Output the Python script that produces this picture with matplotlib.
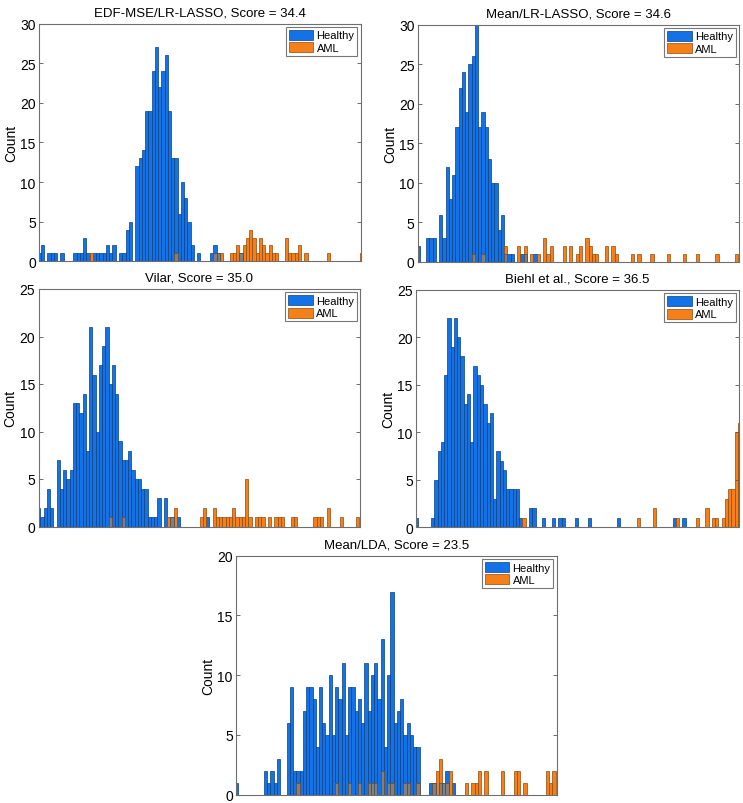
import numpy as np
import matplotlib
matplotlib.use("Agg")
import matplotlib.pyplot as plt

plt.rcParams['font.family'] = ['Liberation Sans', 'DejaVu Sans']

# histogram counts per bin (100 bins per panel)
titles = ['EDF-MSE/LR-LASSO, Score = 34.4',
          'Mean/LR-LASSO, Score = 34.6',
          'Vilar, Score = 35.0',
          'Biehl et al., Score = 36.5',
          'Mean/LDA, Score = 23.5']
ymax = [30, 30, 25, 25, 20]

healthy_edf = [1, 2, 0, 1, 1, 1, 0, 1, 0, 0,
               0, 1, 1, 1, 3, 1, 0, 1, 1, 1,
               1, 2, 1, 2, 0, 1, 1, 4, 5, 0,
               12, 13, 14, 19, 19, 24, 27, 22, 24, 26,
               19, 13, 13, 6, 10, 8, 5, 2, 0, 1,
               0, 0, 0, 1, 2, 1, 0, 0, 0, 0,
               0, 0, 1, 0, 0, 0, 0, 0, 0, 0,
               0, 0, 0, 0, 0, 0, 0, 0, 0, 0,
               0, 0, 0, 0, 0, 0, 0, 0, 0, 0,
               0, 0, 0, 0, 0, 0, 0, 0, 0, 0]
aml_edf = [0, 0, 0, 0, 0, 0, 0, 0, 0, 0,
           0, 0, 0, 0, 0, 0, 1, 0, 0, 0,
           0, 0, 0, 0, 0, 0, 0, 0, 0, 0,
           0, 0, 0, 0, 0, 0, 0, 0, 0, 0,
           0, 0, 1, 0, 0, 0, 0, 0, 0, 0,
           0, 0, 0, 0, 1, 1, 1, 0, 0, 1,
           1, 2, 1, 2, 3, 4, 3, 1, 3, 2,
           1, 2, 1, 1, 0, 0, 3, 1, 1, 1,
           2, 0, 1, 0, 0, 0, 0, 0, 0, 1,
           0, 0, 0, 0, 0, 0, 0, 0, 0, 1]

healthy_mean_lasso = [2, 0, 0, 3, 3, 3, 0, 6, 3, 12,
                      8, 11, 17, 22, 24, 19, 25, 26, 30, 17,
                      19, 17, 13, 10, 10, 4, 6, 1, 1, 1,
                      0, 0, 1, 1, 0, 0, 1, 0, 0, 0,
                      0, 0, 0, 0, 0, 0, 0, 0, 0, 0,
                      0, 0, 0, 0, 0, 0, 0, 0, 0, 0,
                      0, 0, 0, 0, 0, 0, 0, 0, 0, 0,
                      0, 0, 0, 0, 0, 0, 0, 0, 0, 0,
                      0, 0, 0, 0, 0, 0, 0, 0, 0, 0,
                      0, 0, 0, 0, 0, 0, 0, 0, 0, 0]
aml_mean_lasso = [0, 0, 0, 0, 0, 0, 0, 0, 0, 0,
                  0, 0, 0, 0, 0, 0, 0, 1, 0, 0,
                  1, 0, 0, 0, 0, 0, 0, 2, 0, 0,
                  0, 2, 0, 2, 0, 1, 0, 1, 0, 3,
                  1, 2, 0, 0, 0, 2, 0, 2, 0, 1,
                  2, 0, 3, 2, 1, 1, 0, 0, 2, 0,
                  2, 1, 0, 0, 0, 0, 1, 0, 1, 0,
                  0, 0, 1, 0, 0, 0, 0, 1, 0, 0,
                  0, 0, 1, 0, 0, 0, 1, 0, 0, 0,
                  0, 0, 1, 0, 0, 0, 0, 0, 1, 0]

healthy_vilar = [2, 1, 2, 4, 2, 0, 7, 4, 6, 5,
                 6, 13, 13, 12, 14, 8, 21, 16, 10, 17,
                 19, 21, 15, 17, 14, 9, 7, 7, 8, 6,
                 5, 5, 4, 4, 1, 1, 1, 3, 0, 3,
                 0, 1, 0, 1, 0, 0, 0, 0, 0, 0,
                 0, 0, 1, 0, 0, 0, 0, 0, 0, 0,
                 0, 0, 0, 0, 0, 0, 0, 0, 0, 0,
                 0, 0, 0, 0, 0, 0, 0, 0, 0, 0,
                 0, 0, 0, 0, 0, 0, 0, 0, 0, 0,
                 0, 0, 0, 0, 0, 0, 0, 0, 0, 0]
aml_vilar = [0, 0, 0, 0, 0, 0, 0, 0, 0, 0,
             0, 0, 0, 0, 0, 0, 0, 0, 0, 0,
             0, 0, 1, 0, 0, 0, 1, 0, 0, 0,
             0, 0, 0, 0, 0, 0, 0, 0, 0, 0,
             1, 1, 2, 0, 0, 0, 0, 0, 0, 0,
             1, 2, 0, 0, 2, 1, 1, 1, 1, 1,
             2, 1, 1, 1, 5, 1, 0, 1, 1, 1,
             0, 1, 0, 1, 1, 1, 0, 0, 1, 1,
             0, 0, 0, 0, 0, 1, 1, 1, 0, 2,
             0, 0, 0, 1, 0, 0, 0, 0, 1, 0]

healthy_biehl = [1, 0, 0, 0, 0, 1, 5, 8, 9, 16,
                 22, 19, 22, 20, 18, 13, 14, 9, 17, 16,
                 15, 13, 11, 12, 3, 8, 7, 6, 4, 4,
                 4, 4, 1, 0, 0, 2, 2, 0, 0, 1,
                 0, 0, 1, 0, 1, 1, 0, 0, 0, 1,
                 0, 0, 0, 1, 0, 0, 0, 0, 0, 0,
                 0, 0, 1, 0, 0, 0, 0, 0, 0, 0,
                 0, 0, 0, 0, 0, 0, 0, 0, 0, 1,
                 0, 0, 1, 0, 0, 0, 0, 0, 0, 0,
                 0, 0, 0, 0, 0, 0, 0, 0, 0, 0]
aml_biehl = [0, 0, 0, 0, 0, 0, 0, 0, 0, 0,
             0, 0, 0, 0, 0, 0, 0, 0, 0, 0,
             0, 0, 0, 0, 0, 0, 0, 0, 0, 0,
             0, 0, 0, 1, 0, 0, 0, 0, 0, 0,
             0, 0, 0, 0, 0, 0, 0, 0, 0, 0,
             0, 0, 0, 0, 0, 0, 0, 0, 0, 0,
             0, 0, 0, 0, 0, 0, 0, 0, 1, 0,
             0, 0, 0, 2, 0, 0, 0, 0, 0, 0,
             1, 0, 0, 0, 0, 0, 1, 0, 0, 2,
             0, 1, 1, 0, 1, 3, 4, 4, 10, 11]

healthy_lda = [1, 0, 0, 0, 0, 0, 0, 0, 0, 2,
               1, 2, 1, 3, 0, 0, 6, 9, 2, 2,
               2, 7, 9, 9, 8, 4, 9, 6, 5, 10,
               5, 9, 8, 11, 5, 9, 9, 7, 8, 6,
               11, 7, 10, 11, 8, 13, 4, 10, 17, 6,
               7, 8, 5, 6, 5, 4, 4, 0, 0, 0,
               1, 1, 0, 1, 1, 2, 0, 1, 0, 0,
               0, 0, 0, 0, 0, 0, 0, 0, 0, 0,
               0, 0, 0, 0, 0, 0, 0, 0, 0, 0,
               0, 0, 0, 0, 0, 0, 0, 0, 0, 0]
aml_lda = [0, 0, 0, 0, 0, 0, 0, 0, 0, 0,
           0, 0, 0, 0, 0, 0, 0, 0, 0, 1,
           0, 0, 0, 0, 0, 0, 0, 0, 0, 0,
           0, 1, 0, 0, 0, 1, 0, 0, 1, 0,
           0, 1, 1, 1, 0, 2, 0, 1, 1, 0,
           0, 0, 1, 1, 0, 0, 1, 0, 0, 0,
           0, 1, 2, 3, 1, 1, 2, 0, 0, 0,
           0, 1, 0, 1, 1, 2, 0, 2, 0, 0,
           0, 0, 2, 0, 0, 0, 2, 2, 0, 1,
           0, 0, 0, 0, 0, 0, 2, 1, 2, 0]

panels = [(healthy_edf, aml_edf), (healthy_mean_lasso, aml_mean_lasso),
          (healthy_vilar, aml_vilar), (healthy_biehl, aml_biehl),
          (healthy_lda, aml_lda)]

# axes rectangles in pixels (left, top, right, bottom) of the 743x804 figure
W, H = 743, 804
rects = [(39.3, 24.5, 360.7, 262.3),
         (418.0, 25.5, 739.0, 263.0),
         (38.7, 290.0, 360.0, 527.5),
         (416.3, 291.0, 739.0, 528.3),
         (236.3, 556.7, 556.7, 795.5)]

BLUE, BLUE_E = '#1373e6', '#0b3f80'
ORANGE, ORANGE_E = '#f5801a', '#8c4a0e'
GRAY, GRAY_E = '#808080', '#4d4d4d'

fig = plt.figure(figsize=(W / 100, H / 100), dpi=100)

centers = np.arange(100) - 0.5


def bars(ax, vals, face, edge, label=None):
    vals = np.asarray(vals)
    m = vals > 0
    ax.bar(centers[m], vals[m], width=1.0, color=face, edgecolor=edge,
           linewidth=0.5, label=label)


for i, ((h, a), title, top) in enumerate(zip(panels, titles, ymax)):
    l, t, r, b = rects[i]
    ax = fig.add_axes([l / W, 1 - b / H, (r - l) / W, (b - t) / H])
    h = np.array(h)
    a = np.array(a)
    bars(ax, h, BLUE, BLUE_E, 'Healthy')
    bars(ax, a, ORANGE, ORANGE_E, 'AML')
    bars(ax, np.minimum(h, a), GRAY, GRAY_E)

    ax.set_xlim(-0.5, 98.3)
    ax.set_ylim(0, top)
    ax.set_xticks([])
    ax.set_yticks(range(0, top + 1, 5))
    ax.tick_params(axis='y', direction='in', right=True, length=3,
                   width=0.6, color='#555555', labelsize=10, pad=2.5)
    for s in ax.spines.values():
        s.set_color('#6e6e6e')
        s.set_linewidth(0.8)
    ax.set_ylabel('Count', fontsize=10)
    # the label anchor is its right edge, just left of the tick labels
    lx = l - 21
    ax.yaxis.set_label_coords((lx - l) / (r - l), 0.5)
    ax.set_title(title, fontsize=9.5, pad=6)
    leg = ax.legend(loc='upper right', fontsize=8, frameon=True,
                    fancybox=False, borderaxespad=0.3, handlelength=2.2,
                    handleheight=1.0, handletextpad=0.3, borderpad=0.25,
                    labelspacing=0.15)
    leg.get_frame().set_edgecolor('#555555')
    leg.get_frame().set_linewidth(0.8)

fig.savefig('out.png', dpi=100)
